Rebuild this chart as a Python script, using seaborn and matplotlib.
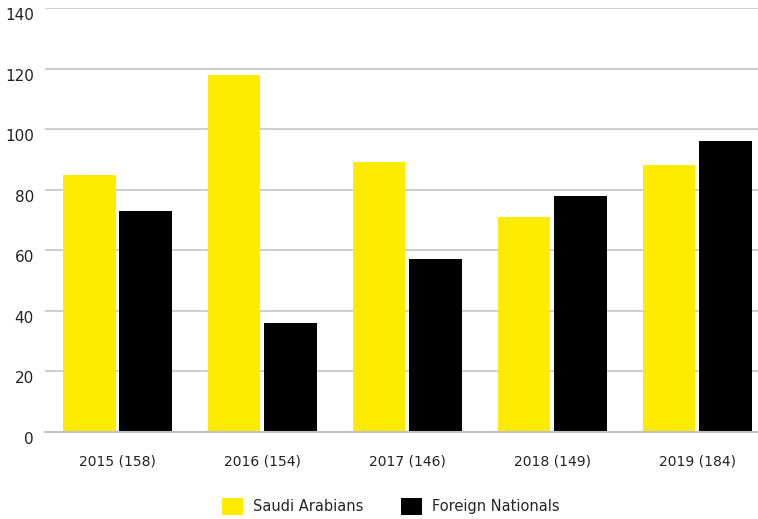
import pandas as pd
import matplotlib.pyplot as plt
import matplotlib.transforms as mtransforms
import seaborn as sns

years = ["2015 (158)", "2016 (154)", "2017 (146)", "2018 (149)", "2019 (184)"]
saudi = [85, 118, 89, 71, 88]
foreign = [73, 36, 57, 78, 96]
series = ["Saudi Arabians", "Foreign Nationals"]
colors = ["#FFEB00", "#000000"]

df = pd.DataFrame({
    "year": years * 2,
    "value": saudi + foreign,
    "group": [series[0]] * len(years) + [series[1]] * len(years),
})

sns.set_style("white")
plt.rcParams["font.family"] = ["DejaVu Sans"]

fig = plt.figure(figsize=(7.58, 5.19), dpi=100)
ax = fig.add_axes([0.0594, 0.1676, 0.9406, 0.817])

sns.barplot(data=df, x="year", y="value", hue="group", palette=colors,
            width=0.78, gap=0.07, ax=ax, saturation=1, linewidth=0)

ax.set_ylim(0, 140)
ax.set_xlim(-0.5, 4.42)
ax.set_yticks(range(0, 141, 20))
ax.yaxis.grid(True, color="#c4c6c8", linewidth=1.2)
ax.set_axisbelow(True)
for s in ["top", "right", "left"]:
    ax.spines[s].set_visible(False)
ax.spines["bottom"].set_color("#bfc1c3")
ax.spines["bottom"].set_linewidth(1.5)
ax.tick_params(axis="x", length=0, labelsize=10, colors="#222222", pad=16)
ax.tick_params(axis="y", length=0, labelsize=11, colors="#222222", pad=8)
ax.set_xlabel("")
ax.set_ylabel("")

# y labels sit a little below their gridlines
shift = mtransforms.ScaledTranslation(0, -6 / 100, fig.dpi_scale_trans)
for lab in ax.get_yticklabels():
    lab.set_transform(lab.get_transform() + shift)

handles, labels = ax.get_legend_handles_labels()
ax.legend(handles, labels, loc="upper center", bbox_to_anchor=(0.485, -0.125),
          ncol=2, frameon=False, fontsize=10.5, handlelength=1.4, handleheight=1.4,
          columnspacing=2.6, handletextpad=0.7)

fig.savefig("out.png", dpi=100)
